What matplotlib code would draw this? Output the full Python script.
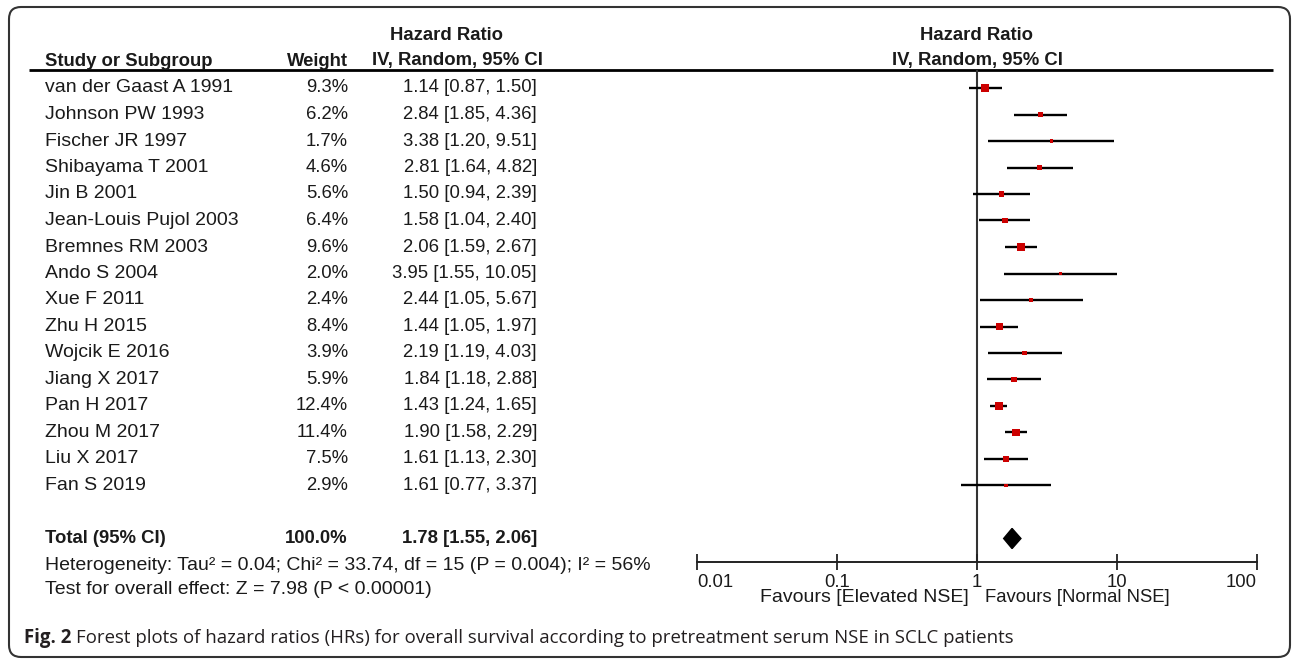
import numpy as np
import matplotlib
matplotlib.use("Agg")
import matplotlib.pyplot as plt
from matplotlib.patches import FancyBboxPatch
from matplotlib.transforms import blended_transform_factory
from matplotlib.ticker import NullLocator

plt.rcParams['font.family'] = ['Liberation Sans', 'DejaVu Sans']

# study-level data
studies = ["van der Gaast A 1991", "Johnson PW 1993", "Fischer JR 1997", "Shibayama T 2001",
           "Jin B 2001", "Jean-Louis Pujol 2003", "Bremnes RM 2003", "Ando S 2004",
           "Xue F 2011", "Zhu H 2015", "Wojcik E 2016", "Jiang X 2017",
           "Pan H 2017", "Zhou M 2017", "Liu X 2017", "Fan S 2019"]
weights = [9.3, 6.2, 1.7, 4.6, 5.6, 6.4, 9.6, 2.0, 2.4, 8.4, 3.9, 5.9, 12.4, 11.4, 7.5, 2.9]
hr = [1.14, 2.84, 3.38, 2.81, 1.50, 1.58, 2.06, 3.95, 2.44, 1.44, 2.19, 1.84, 1.43, 1.90, 1.61, 1.61]
ci_low = [0.87, 1.85, 1.20, 1.64, 0.94, 1.04, 1.59, 1.55, 1.05, 1.05, 1.19, 1.18, 1.24, 1.58, 1.13, 0.77]
ci_high = [1.50, 4.36, 9.51, 4.82, 2.39, 2.40, 2.67, 10.05, 5.67, 1.97, 4.03, 2.88, 1.65, 2.29, 2.30, 3.37]

# pooled estimate
total_weight = 100.0
total_hr, total_low, total_high = 1.78, 1.55, 2.06
heterogeneity = "Heterogeneity: Tau² = 0.04; Chi² = 33.74, df = 15 (P = 0.004); I² = 56%"
overall_test = "Test for overall effect: Z = 7.98 (P < 0.00001)"
xticks = [0.01, 0.1, 1, 10, 100]
xtick_labels = ["0.01", "0.1", "1", "10", "100"]
caption = "Forest plots of hazard ratios (HRs) for overall survival according to pretreatment serum NSE in SCLC patients"

W, H = 1292, 660
ROW0, ROW_H = 88, 26.5          # pixel centre of first row, row pitch
TOP, BOTTOM = 70, 562           # header rule / x axis line
TXT = '#1a1a1a'
FS = 13.3       # numbers, headers
FS_W = 14.0     # study names and footnotes

fig = plt.figure(figsize=(W / 100, H / 100), dpi=100)
bg = fig.add_axes([0, 0, 1, 1])
bg.set_xlim(0, W)
bg.set_ylim(H, 0)
bg.axis('off')

# forest panel
ax = fig.add_axes([697 / W, 1 - BOTTOM / H, 560 / W, (BOTTOM - TOP) / H])
ax.set_xscale('log')
ax.set_xlim(0.01, 100)
ax.set_ylim((BOTTOM - ROW0) / ROW_H, (TOP - ROW0) / ROW_H)
ax.patch.set_alpha(0)
for s in ['top', 'left', 'right']:
    ax.spines[s].set_visible(False)
ax.spines['bottom'].set_linewidth(1.4)
ax.spines['bottom'].set_color('#222222')
ax.set_yticks([])
ax.set_xticks(xticks)
ax.set_xticklabels(xtick_labels)
ax.xaxis.set_minor_locator(NullLocator())
ax.tick_params(axis='x', direction='inout', length=11, width=1.3, color='#222222',
               labelsize=FS, labelcolor=TXT, pad=3)
tl = ax.get_xticklabels()
tl[0].set_ha('left')
tl[-1].set_ha('right')

rows = np.arange(len(studies))
total_row = len(studies) + 1

ax.axvline(1, color='#333333', lw=1.5, zorder=1)
ax.hlines(rows, ci_low, ci_high, color='black', lw=1.7, zorder=2)
ax.scatter(hr, rows, marker='s', s=2.8 * np.array(weights), color='#cc0000',
           linewidths=0, zorder=3)
d = 0.38
ax.fill([total_low, total_hr, total_high, total_hr],
        [total_row, total_row - d, total_row, total_row + d], color='black', zorder=3)

# table on the left
rt = blended_transform_factory(bg.transData, ax.transData)
for i, name in enumerate(studies):
    ax.text(45, i, name, transform=rt, ha='left', va='center', fontsize=FS_W, color=TXT)
    ax.text(348, i, f"{weights[i]:.1f}%", transform=rt, ha='right', va='center',
            fontsize=FS, color=TXT)
    ax.text(537, i, f"{hr[i]:.2f} [{ci_low[i]:.2f}, {ci_high[i]:.2f}]", transform=rt,
            ha='right', va='center', fontsize=FS, color=TXT)

ax.text(45, total_row, "Total (95% CI)", transform=rt, ha='left', va='center',
        fontsize=FS, fontweight='bold', color=TXT)
ax.text(348, total_row, f"{total_weight:.1f}%", transform=rt, ha='right', va='center',
        fontsize=FS, fontweight='bold', color=TXT)
ax.text(537, total_row, f"{total_hr:.2f} [{total_low:.2f}, {total_high:.2f}]", transform=rt,
        ha='right', va='center', fontsize=FS, fontweight='bold', color=TXT)

bg.text(45, 566, heterogeneity, ha='left', va='center', fontsize=FS_W, color=TXT)
bg.text(45, 590, overall_test, ha='left', va='center', fontsize=FS_W, color=TXT)

# headers
hdr = dict(fontsize=FS, fontweight='bold', color=TXT, va='center')
bg.text(446, 35, "Hazard Ratio", ha='center', **hdr)
bg.text(543, 61, "IV, Random, 95% CI", ha='right', **hdr)
bg.text(45, 61, "Study or Subgroup", ha='left', **hdr)
bg.text(348, 61, "Weight", ha='right', **hdr)
bg.text(977, 35, "Hazard Ratio", ha='center', **hdr)
bg.text(977, 61, "IV, Random, 95% CI", ha='center', **hdr)
bg.plot([29, 1273], [TOP, TOP], color='black', lw=2, solid_capstyle='butt')

bg.text(969, 598, "Favours [Elevated NSE]", ha='right', va='center', fontsize=FS_W, color=TXT)
bg.text(985, 598, "Favours [Normal NSE]", ha='left', va='center', fontsize=FS, color=TXT)

# frame and caption
bg.add_patch(FancyBboxPatch((9, 7), 1281, 650, boxstyle='round,pad=0,rounding_size=12',
                            fill=False, ec='#333333', lw=1.5))
cap_font = ['Open Sans', 'DejaVu Sans']
t = bg.text(24, 638, "Fig. 2", ha='left', va='center', fontsize=13.4, fontweight='bold',
            family=cap_font, color='#231f20')
fig.canvas.draw()
bb = t.get_window_extent()
x_end = bg.transData.inverted().transform((bb.x1, bb.y0))[0]
bg.text(x_end + 5, 638, caption, ha='left', va='center', fontsize=13.4,
        family=cap_font, color='#231f20')

fig.savefig("out.png", dpi=100)
